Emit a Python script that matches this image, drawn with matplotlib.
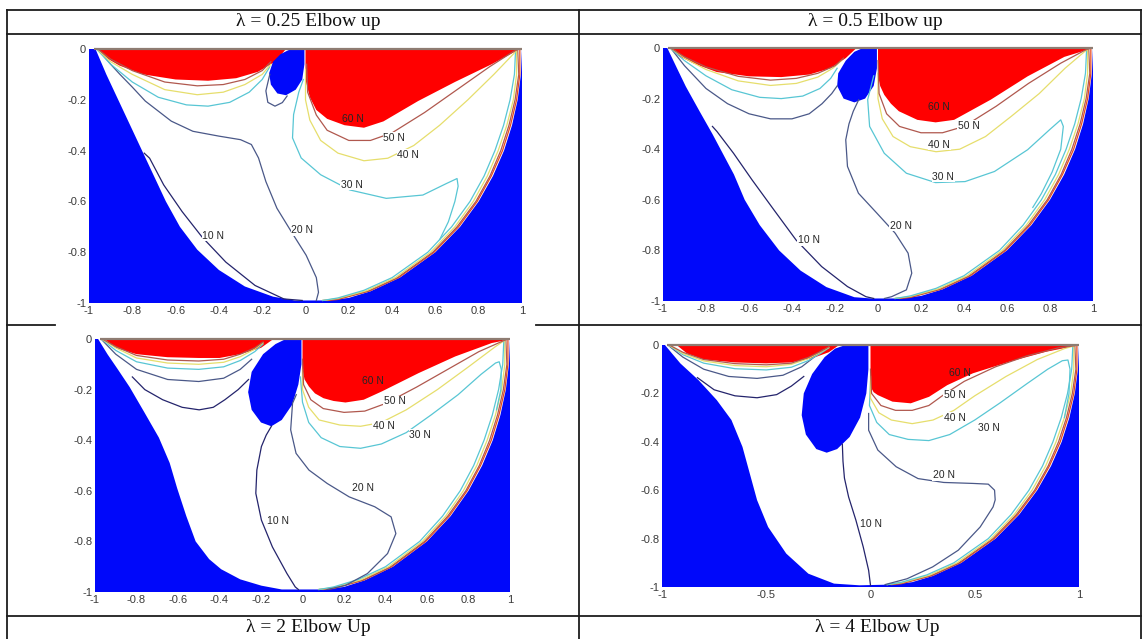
import matplotlib
matplotlib.use("Agg")
import matplotlib.pyplot as plt
from matplotlib.lines import Line2D

W, H = 1145, 639

BLUE = "#0008fa"
RED = "#ff0000"
C10 = "#24246c"
C20 = "#4a5888"
C30 = "#58c6d4"
C40 = "#e6de6c"
C50 = "#b0584e"
C60 = "#e8481e"
TOP_EDGE = "#8e7c72"

TITLES = ["λ = 0.25 Elbow up", "λ = 0.5 Elbow up", "λ = 2 Elbow Up", "λ = 4 Elbow Up"]
LEVEL_TEXT = ["60 N", "50 N", "40 N", "30 N", "20 N", "10 N"]

X_TICKS = [-1, -0.8, -0.6, -0.4, -0.2, 0, 0.2, 0.4, 0.6, 0.8, 1]
X_LABELS = ["-1", "-0.8", "-0.6", "-0.4", "-0.2", "0", "0.2", "0.4", "0.6", "0.8", "1"]
X_TICKS_4 = [-1, -0.5, 0, 0.5, 1]
X_LABELS_4 = ["-1", "-0.5", "0", "0.5", "1"]
Y_TICKS = [0, -0.2, -0.4, -0.6, -0.8, -1]
Y_LABELS = ["0", "-0.2", "-0.4", "-0.6", "-0.8", "-1"]

# outer rim of the workspace (right side) and the contours bunched along it
RIM = [(1.0, 0.0), (0.995, -0.1), (0.98, -0.2), (0.954, -0.3), (0.917, -0.4), (0.866, -0.5),
       (0.8, -0.6), (0.714, -0.7), (0.6, -0.8), (0.436, -0.9), (0.3, -0.954), (0.2, -0.98), (0.1, -0.99)]
HUG_30 = [(0.97, -0.01), (0.965, -0.1), (0.945, -0.2), (0.915, -0.3), (0.875, -0.4), (0.825, -0.5),
          (0.76, -0.6), (0.675, -0.7), (0.565, -0.8), (0.4, -0.9), (0.27, -0.95), (0.15, -0.98), (0.08, -0.99)]
HUG_40 = [(0.975, -0.005), (0.975, -0.1), (0.96, -0.2), (0.93, -0.3), (0.89, -0.4), (0.84, -0.5),
          (0.775, -0.6), (0.69, -0.7), (0.578, -0.8), (0.415, -0.9), (0.28, -0.952), (0.15, -0.982), (0.08, -0.99)]
HUG_50 = [(0.98, -0.003), (0.985, -0.1), (0.968, -0.2), (0.94, -0.3), (0.902, -0.4), (0.852, -0.5),
          (0.787, -0.6), (0.7, -0.7), (0.588, -0.8), (0.425, -0.9), (0.29, -0.953), (0.15, -0.984), (0.08, -0.99)]
HUG_60 = [(0.99, 0.0), (0.99, -0.1), (0.975, -0.2), (0.947, -0.3), (0.91, -0.4), (0.858, -0.5),
          (0.793, -0.6), (0.707, -0.7), (0.594, -0.8), (0.43, -0.9), (0.295, -0.953), (0.15, -0.986), (0.1, -0.99)]

# ---- panel 1: lambda = 0.25
P1_EDGE = [(-0.97, 0.0), (-0.92, -0.1), (-0.865, -0.2), (-0.81, -0.3), (-0.755, -0.4), (-0.7, -0.5),
           (-0.645, -0.6), (-0.58, -0.7), (-0.5, -0.79), (-0.4, -0.87), (-0.28, -0.935), (-0.15, -0.975), (-0.05, -0.99)]
P1_RED_L = [(-0.965, 0.0), (-0.93, -0.03), (-0.86, -0.065), (-0.75, -0.1), (-0.6, -0.12), (-0.45, -0.125),
            (-0.32, -0.115), (-0.22, -0.09), (-0.14, -0.05), (-0.09, 0.0)]
P1_RED_R = [(0.0, 0.0), (0.0, -0.12), (0.02, -0.19), (0.05, -0.24), (0.1, -0.275), (0.18, -0.3), (0.27, -0.31),
            (0.36, -0.285), (0.52, -0.205), (0.69, -0.13), (0.86, -0.06), (0.98, -0.005), (0.99, 0.0)]
P1_HOLE = [(-0.06, 0.0), (-0.005, 0.0), (-0.005, -0.06), (-0.015, -0.12), (-0.045, -0.16), (-0.09, -0.182),
           (-0.13, -0.175), (-0.16, -0.14), (-0.168, -0.095), (-0.15, -0.05), (-0.115, -0.02), (-0.08, -0.005)]
P1_10N = [(-0.745, -0.41), (-0.72, -0.43), (-0.655, -0.535), (-0.57, -0.64), (-0.478, -0.74), (-0.368, -0.839),
          (-0.233, -0.931), (-0.1, -0.984), (-0.015, -0.99)]
P1_20N = [(-0.95, -0.01), (-0.9, -0.06), (-0.857, -0.1), (-0.8, -0.15), (-0.74, -0.205), (-0.62, -0.284),
          (-0.52, -0.324), (-0.4, -0.343), (-0.3, -0.357), (-0.25, -0.376), (-0.217, -0.429), (-0.183, -0.522),
          (-0.132, -0.627), (-0.065, -0.72), (0.003, -0.812), (0.05, -0.9), (0.06, -0.958), (0.05, -0.99)]
P1_20N_LOOP = [(-0.165, -0.1), (-0.183, -0.165), (-0.174, -0.21), (-0.141, -0.225), (-0.107, -0.211), (-0.085, -0.185)]
P1_30N_L = [(-0.96, -0.005), (-0.9, -0.06), (-0.8, -0.13), (-0.68, -0.19), (-0.55, -0.22), (-0.45, -0.225),
            (-0.35, -0.21), (-0.26, -0.17), (-0.2, -0.12), (-0.165, -0.07)]
P1_40N_L = [(-0.96, -0.003), (-0.9, -0.05), (-0.8, -0.1), (-0.65, -0.16), (-0.5, -0.18), (-0.38, -0.17),
            (-0.28, -0.14), (-0.2, -0.1), (-0.16, -0.06)]
P1_50N_L = [(-0.96, 0.0), (-0.9, -0.04), (-0.8, -0.085), (-0.65, -0.13), (-0.5, -0.145), (-0.38, -0.14),
            (-0.28, -0.12), (-0.2, -0.085), (-0.16, -0.05)]
P1_30N_R = [(-0.01, -0.12), (-0.031, -0.17), (-0.055, -0.258), (-0.06, -0.35), (-0.02, -0.429), (0.07, -0.495),
            (0.205, -0.555), (0.373, -0.588), (0.542, -0.575), (0.65, -0.53), (0.7, -0.51), (0.705, -0.54),
            (0.69, -0.6), (0.66, -0.68), (0.62, -0.75)]
P1_40N_R = [(0.0, -0.08), (0.0, -0.2), (0.02, -0.28), (0.07, -0.36), (0.15, -0.41), (0.27, -0.44), (0.38, -0.43),
            (0.5, -0.38), (0.62, -0.3), (0.75, -0.2), (0.87, -0.1), (0.96, -0.02), (0.975, -0.005)]
P1_50N_R = [(0.005, -0.06), (0.01, -0.17), (0.05, -0.26), (0.1, -0.32), (0.2, -0.36), (0.3, -0.36), (0.4, -0.33),
            (0.55, -0.25), (0.7, -0.16), (0.85, -0.07), (0.96, -0.01), (0.98, -0.003)]
P1_LABEL_XY = [(0.22, -0.277), (0.41, -0.35), (0.474, -0.416), (0.213, -0.535), (-0.014, -0.713), (-0.427, -0.736)]

# ---- panel 2: lambda = 0.5
P2_EDGE = [(-0.98, 0.0), (-0.935, -0.08), (-0.894, -0.152), (-0.83, -0.25), (-0.77, -0.34), (-0.72, -0.42),
           (-0.67, -0.5), (-0.62, -0.6), (-0.55, -0.7), (-0.46, -0.8), (-0.36, -0.88), (-0.24, -0.945),
           (-0.11, -0.985), (-0.03, -0.99)]
P2_RED_L = [(-0.97, 0.0), (-0.93, -0.03), (-0.86, -0.06), (-0.75, -0.095), (-0.6, -0.112), (-0.45, -0.115),
            (-0.32, -0.105), (-0.22, -0.08), (-0.15, -0.04), (-0.1, 0.0)]
P2_RED_R = [(0.0, 0.0), (0.0, -0.11), (0.01, -0.15), (0.029, -0.185), (0.06, -0.22), (0.097, -0.25),
            (0.183, -0.284), (0.268, -0.294), (0.354, -0.284), (0.525, -0.204), (0.696, -0.112),
            (0.867, -0.035), (0.986, -0.004), (0.99, 0.0)]
P2_HOLE = [(-0.07, 0.0), (-0.005, 0.0), (-0.005, -0.08), (-0.02, -0.15), (-0.06, -0.2), (-0.11, -0.215),
           (-0.16, -0.2), (-0.19, -0.15), (-0.185, -0.1), (-0.15, -0.05), (-0.11, -0.015)]
P2_10N = [(-0.77, -0.31), (-0.749, -0.33), (-0.672, -0.416), (-0.586, -0.521), (-0.484, -0.64), (-0.381, -0.759),
          (-0.262, -0.864), (-0.142, -0.943), (-0.056, -0.983), (-0.02, -0.99)]
P2_20N_L = [(-0.96, -0.005), (-0.9, -0.07), (-0.8, -0.16), (-0.7, -0.22), (-0.6, -0.26), (-0.5, -0.28),
            (-0.4, -0.28), (-0.32, -0.26), (-0.26, -0.22), (-0.215, -0.18), (-0.19, -0.15)]
P2_20N_R = [(-0.09, -0.205), (-0.115, -0.25), (-0.135, -0.3), (-0.15, -0.363), (-0.142, -0.468), (-0.091, -0.574),
            (-0.005, -0.653), (0.08, -0.732), (0.14, -0.811), (0.157, -0.89), (0.132, -0.956), (0.063, -0.983),
            (0.03, -0.99)]
P2_30N_L = [(-0.96, -0.005), (-0.9, -0.05), (-0.8, -0.11), (-0.68, -0.165), (-0.55, -0.195), (-0.45, -0.2),
            (-0.35, -0.19), (-0.27, -0.16), (-0.22, -0.12), (-0.19, -0.08)]
P2_40N_L = [(-0.96, -0.003), (-0.9, -0.04), (-0.8, -0.085), (-0.65, -0.13), (-0.5, -0.148), (-0.38, -0.14),
            (-0.28, -0.115), (-0.21, -0.08), (-0.17, -0.05)]
P2_50N_L = [(-0.965, 0.0), (-0.9, -0.035), (-0.8, -0.075), (-0.65, -0.112), (-0.5, -0.127), (-0.38, -0.12),
            (-0.28, -0.1), (-0.2, -0.07), (-0.16, -0.04)]
P2_30N_R = [(-0.02, -0.11), (-0.048, -0.204), (-0.039, -0.31), (0.029, -0.416), (0.132, -0.495), (0.268, -0.532),
            (0.405, -0.528), (0.542, -0.488), (0.696, -0.402), (0.798, -0.323), (0.85, -0.284), (0.862, -0.31),
            (0.85, -0.4), (0.81, -0.49), (0.76, -0.575), (0.72, -0.63)]
P2_40N_R = [(0.0, -0.1), (0.0, -0.2), (0.02, -0.28), (0.07, -0.35), (0.15, -0.39), (0.27, -0.41), (0.38, -0.4),
            (0.5, -0.35), (0.62, -0.27), (0.75, -0.18), (0.87, -0.08), (0.96, -0.015), (0.975, -0.005)]
P2_50N_R = [(0.0, -0.05), (0.005, -0.18), (0.04, -0.26), (0.1, -0.31), (0.2, -0.335), (0.3, -0.335), (0.4, -0.31),
            (0.55, -0.23), (0.7, -0.14), (0.85, -0.06), (0.96, -0.01), (0.98, -0.003)]
P2_LABEL_XY = [(0.285, -0.234), (0.422, -0.307), (0.285, -0.383), (0.303, -0.508), (0.106, -0.703), (-0.321, -0.759)]

# ---- panel 3: lambda = 2
P3_EDGE = [(-0.985, 0.0), (-0.94, -0.06), (-0.89, -0.12), (-0.833, -0.19), (-0.762, -0.29), (-0.692, -0.39),
           (-0.64, -0.49), (-0.604, -0.59), (-0.56, -0.7), (-0.515, -0.8), (-0.45, -0.87), (-0.392, -0.91),
           (-0.3, -0.95), (-0.198, -0.975), (-0.1, -0.99), (-0.03, -0.99)]
P3_RED_L = [(-0.955, 0.0), (-0.9, -0.035), (-0.8, -0.06), (-0.65, -0.072), (-0.5, -0.075), (-0.4, -0.075),
            (-0.3, -0.06), (-0.2, -0.035), (-0.14, 0.0)]
P3_RED_R = [(0.0, 0.0), (0.0, -0.12), (0.01, -0.16), (0.031, -0.188), (0.06, -0.215), (0.101, -0.234),
            (0.15, -0.245), (0.207, -0.251), (0.295, -0.24), (0.383, -0.207), (0.559, -0.135), (0.736, -0.069),
            (0.912, -0.016), (0.991, -0.003), (0.995, 0.0)]
P3_HOLE = [(-0.08, 0.0), (-0.005, 0.0), (-0.005, -0.1), (-0.02, -0.18), (-0.05, -0.26), (-0.1, -0.32),
           (-0.15, -0.345), (-0.2, -0.33), (-0.245, -0.28), (-0.262, -0.21), (-0.245, -0.13), (-0.19, -0.06),
           (-0.13, -0.02)]
P3_10N_L = [(-0.82, -0.15), (-0.76, -0.2), (-0.674, -0.24), (-0.58, -0.27), (-0.498, -0.28), (-0.43, -0.27),
            (-0.374, -0.24), (-0.31, -0.2), (-0.26, -0.16)]
P3_10N_R = [(-0.15, -0.345), (-0.175, -0.38), (-0.198, -0.425), (-0.22, -0.518), (-0.225, -0.61), (-0.198, -0.716),
            (-0.145, -0.822), (-0.075, -0.927), (-0.035, -0.98), (-0.02, -0.99)]
P3_20N_L = [(-0.965, -0.005), (-0.9, -0.06), (-0.8, -0.12), (-0.65, -0.16), (-0.5, -0.168), (-0.38, -0.155),
            (-0.3, -0.12), (-0.245, -0.08)]
P3_20N_R = [(-0.03, -0.22), (-0.048, -0.254), (-0.057, -0.359), (-0.031, -0.452), (0.031, -0.518), (0.119, -0.571),
            (0.225, -0.624), (0.348, -0.663), (0.427, -0.703), (0.45, -0.769), (0.41, -0.848), (0.313, -0.927),
            (0.207, -0.974), (0.119, -0.99)]
P3_30N_L = [(-0.965, -0.003), (-0.9, -0.045), (-0.8, -0.09), (-0.65, -0.115), (-0.5, -0.12), (-0.38, -0.11),
            (-0.3, -0.085), (-0.23, -0.05), (-0.19, -0.02)]
P3_40N_L = [(-0.965, -0.002), (-0.9, -0.035), (-0.8, -0.075), (-0.65, -0.095), (-0.5, -0.1), (-0.38, -0.092),
            (-0.3, -0.07), (-0.23, -0.04), (-0.19, -0.015)]
P3_50N_L = [(-0.965, 0.0), (-0.9, -0.03), (-0.8, -0.065), (-0.65, -0.083), (-0.5, -0.087), (-0.38, -0.08),
            (-0.3, -0.06), (-0.23, -0.035), (-0.19, -0.012)]
P3_30N_R = [(-0.01, -0.15), (0.0, -0.25), (0.03, -0.33), (0.09, -0.39), (0.18, -0.425), (0.28, -0.432),
            (0.38, -0.415), (0.5, -0.37), (0.62, -0.3), (0.75, -0.22), (0.86, -0.14), (0.93, -0.095),
            (0.948, -0.09), (0.958, -0.12), (0.956, -0.2), (0.935, -0.28)]
P3_40N_R = [(0.0, -0.12), (0.0, -0.2), (0.03, -0.27), (0.08, -0.32), (0.18, -0.34), (0.28, -0.345), (0.38, -0.33),
            (0.5, -0.28), (0.65, -0.2), (0.8, -0.11), (0.93, -0.03), (0.975, -0.005)]
P3_50N_R = [(0.0, -0.08), (0.005, -0.18), (0.04, -0.24), (0.1, -0.275), (0.2, -0.29), (0.3, -0.285), (0.4, -0.255),
            (0.55, -0.19), (0.7, -0.12), (0.85, -0.05), (0.96, -0.01), (0.98, -0.003)]
P3_LABEL_XY = [(0.339, -0.165), (0.445, -0.247), (0.392, -0.343), (0.568, -0.379), (0.29, -0.59), (-0.119, -0.719)]

# ---- panel 4: lambda = 4
P4_EDGE = [(-0.986, 0.0), (-0.912, -0.076), (-0.825, -0.145), (-0.737, -0.228), (-0.667, -0.31), (-0.614, -0.421),
           (-0.579, -0.531), (-0.544, -0.641), (-0.491, -0.752), (-0.404, -0.862), (-0.298, -0.945),
           (-0.175, -0.986), (-0.053, -0.993)]
P4_RED_L = [(-0.93, 0.0), (-0.88, -0.035), (-0.8, -0.06), (-0.65, -0.072), (-0.5, -0.076), (-0.38, -0.072),
            (-0.28, -0.055), (-0.2, -0.03), (-0.15, 0.0)]
P4_RED_R = [(0.0, 0.0), (0.0, -0.172), (0.015, -0.195), (0.035, -0.207), (0.105, -0.234), (0.193, -0.241),
            (0.281, -0.214), (0.368, -0.166), (0.491, -0.117), (0.667, -0.069), (0.842, -0.028), (0.982, -0.004),
            (0.99, 0.0)]
P4_HOLE = [(-0.12, 0.0), (-0.01, 0.0), (-0.01, -0.1), (-0.02, -0.2), (-0.05, -0.3), (-0.1, -0.38), (-0.16, -0.43),
           (-0.21, -0.445), (-0.26, -0.43), (-0.31, -0.37), (-0.33, -0.29), (-0.32, -0.2), (-0.28, -0.12),
           (-0.22, -0.05), (-0.17, -0.015)]
P4_10N_L = [(-0.83, -0.135), (-0.75, -0.185), (-0.65, -0.21), (-0.544, -0.218), (-0.45, -0.205), (-0.38, -0.17),
            (-0.32, -0.13)]
P4_10N_R = [(-0.135, -0.41), (-0.132, -0.48), (-0.125, -0.55), (-0.105, -0.628), (-0.07, -0.724), (-0.035, -0.834),
            (-0.009, -0.931), (0.0, -0.993)]
P4_20N_L = [(-0.965, -0.005), (-0.9, -0.05), (-0.8, -0.1), (-0.68, -0.13), (-0.544, -0.138), (-0.42, -0.125),
            (-0.33, -0.09), (-0.27, -0.05), (-0.23, -0.02)]
P4_20N_R = [(-0.009, -0.283), (-0.009, -0.352), (0.035, -0.434), (0.123, -0.503), (0.228, -0.552), (0.351, -0.568),
            (0.491, -0.572), (0.565, -0.575), (0.595, -0.6), (0.598, -0.64), (0.588, -0.669), (0.526, -0.752),
            (0.421, -0.848), (0.298, -0.917), (0.175, -0.966), (0.07, -0.99)]
P4_30N_L = [(-0.965, -0.003), (-0.9, -0.04), (-0.8, -0.075), (-0.65, -0.098), (-0.5, -0.103), (-0.38, -0.092),
            (-0.3, -0.065), (-0.24, -0.035), (-0.2, -0.012)]
P4_40N_L = [(-0.965, -0.002), (-0.9, -0.035), (-0.8, -0.066), (-0.65, -0.085), (-0.5, -0.09), (-0.38, -0.08),
            (-0.3, -0.057), (-0.24, -0.03), (-0.2, -0.01)]
P4_50N_L = [(-0.965, 0.0), (-0.9, -0.03), (-0.8, -0.06), (-0.65, -0.077), (-0.5, -0.082), (-0.38, -0.075),
            (-0.3, -0.052), (-0.24, -0.027), (-0.2, -0.008)]
P4_30N_R = [(0.0, -0.15), (-0.005, -0.25), (0.03, -0.32), (0.09, -0.37), (0.18, -0.39), (0.28, -0.395),
            (0.38, -0.37), (0.5, -0.31), (0.62, -0.24), (0.75, -0.16), (0.85, -0.1), (0.92, -0.065),
            (0.947, -0.062), (0.957, -0.1), (0.952, -0.2), (0.93, -0.3)]
P4_40N_R = [(0.0, -0.13), (0.0, -0.22), (0.04, -0.28), (0.1, -0.31), (0.2, -0.325), (0.3, -0.31), (0.4, -0.27),
            (0.5, -0.21), (0.65, -0.13), (0.8, -0.06), (0.93, -0.015), (0.975, -0.004)]
P4_50N_R = [(0.0, -0.1), (0.005, -0.2), (0.05, -0.25), (0.12, -0.27), (0.2, -0.27), (0.28, -0.25), (0.36, -0.2),
            (0.45, -0.15), (0.6, -0.09), (0.75, -0.045), (0.9, -0.012), (0.98, -0.003)]
P4_LABEL_XY = [(0.43, -0.117), (0.404, -0.207), (0.404, -0.301), (0.57, -0.341), (0.351, -0.538), (0.0, -0.738)]

# axes boxes in pixels: left, right, top, bottom
P1_BOX = (89, 522, 49, 303)
P2_BOX = (663, 1093, 48, 301)
P3_BOX = (95, 510, 339, 592)
P4_BOX = (662, 1079, 345, 587)

plt.rcParams["axes.unicode_minus"] = False
fig = plt.figure(figsize=(W / 100, H / 100), dpi=100)
fig.patch.set_facecolor("white")


def fig_line(x0, y0, x1, y1):
    fig.add_artist(Line2D([x0 / W, x1 / W], [1 - y0 / H, 1 - y1 / H], color="#1c1c1c", lw=1.3))


def xy(points):
    return [p[0] for p in points], [p[1] for p in points]


def draw_panel(box, xticks, xlabels, edge, red_l, red_r, hole, curves, label_xy):
    left, right, top, bottom = box
    ax = fig.add_axes([left / W, 1 - bottom / H, (right - left) / W, (bottom - top) / H])
    ax.set_xlim(-1, 1)
    ax.set_ylim(-1, 0)
    ax.set_facecolor(BLUE)
    for s in ax.spines.values():
        s.set_visible(False)

    ax.fill(*xy(edge + RIM[::-1]), color="white", lw=0)
    ax.fill(*xy(red_l), color=RED, lw=0)
    ax.fill(*xy(red_r), color=RED, lw=0)
    ax.fill(*xy(hole), color=BLUE, lw=0)

    for pts, col in [(HUG_60, C60), (HUG_50, C50), (HUG_40, C40), (HUG_30, C30)]:
        ax.plot(*xy(pts), color=col, lw=0.9)
    for pts, col in curves:
        ax.plot(*xy(pts), color=col, lw=0.9)
    ax.plot([-0.975, 1.0], [0, 0], color=TOP_EDGE, lw=1.6, clip_on=False, solid_capstyle="butt")

    for i, (text, (lx, ly)) in enumerate(zip(LEVEL_TEXT, label_xy)):
        bb = None if i == 0 else dict(boxstyle="square,pad=0.05", fc="white", ec="none")
        ax.text(lx, ly, text, ha="center", va="center", fontsize=7.5, color="#262626",
                family="Liberation Sans", bbox=bb)

    ax.set_xticks(xticks)
    ax.set_xticklabels(xlabels)
    ax.set_yticks(Y_TICKS)
    ax.set_yticklabels(Y_LABELS)
    ax.tick_params(length=0, pad=2, labelsize=8, labelcolor="#3a3a3a")
    for t in ax.get_xticklabels() + ax.get_yticklabels():
        t.set_family("Liberation Sans")
    return ax


draw_panel(P1_BOX, X_TICKS, X_LABELS, P1_EDGE, P1_RED_L, P1_RED_R, P1_HOLE,
           [(P1_10N, C10), (P1_20N, C20), (P1_20N_LOOP, C20), (P1_30N_L, C30), (P1_40N_L, C40), (P1_50N_L, C50),
            (P1_30N_R, C30), (P1_40N_R, C40), (P1_50N_R, C50)], P1_LABEL_XY)
draw_panel(P2_BOX, X_TICKS, X_LABELS, P2_EDGE, P2_RED_L, P2_RED_R, P2_HOLE,
           [(P2_10N, C10), (P2_20N_L, C20), (P2_20N_R, C20), (P2_30N_L, C30), (P2_40N_L, C40), (P2_50N_L, C50),
            (P2_30N_R, C30), (P2_40N_R, C40), (P2_50N_R, C50)], P2_LABEL_XY)
draw_panel(P3_BOX, X_TICKS, X_LABELS, P3_EDGE, P3_RED_L, P3_RED_R, P3_HOLE,
           [(P3_10N_L, C10), (P3_10N_R, C10), (P3_20N_L, C20), (P3_20N_R, C20), (P3_30N_L, C30), (P3_40N_L, C40),
            (P3_50N_L, C50), (P3_30N_R, C30), (P3_40N_R, C40), (P3_50N_R, C50)], P3_LABEL_XY)
draw_panel(P4_BOX, X_TICKS_4, X_LABELS_4, P4_EDGE, P4_RED_L, P4_RED_R, P4_HOLE,
           [(P4_10N_L, C10), (P4_10N_R, C10), (P4_20N_L, C20), (P4_20N_R, C20), (P4_30N_L, C30), (P4_40N_L, C40),
            (P4_50N_L, C50), (P4_30N_R, C30), (P4_40N_R, C40), (P4_50N_R, C50)], P4_LABEL_XY)

# table frame
fig_line(7, 10, 1141, 10)
fig_line(7, 34, 1141, 34)
fig_line(7, 10, 7, 639)
fig_line(579, 10, 579, 639)
fig_line(1141, 10, 1141, 639)
fig_line(7, 325, 55, 325)
fig_line(536, 325, 1141, 325)
fig_line(7, 616, 1141, 616)

title_font = dict(family="Liberation Serif", fontsize=14, color="#111111", ha="center", va="center")
fig.text(308 / W, 1 - 22 / H, TITLES[0], **title_font)
fig.text(875 / W, 1 - 22 / H, TITLES[1], **title_font)
fig.text(308 / W, 1 - 628 / H, TITLES[2], **title_font)
fig.text(877 / W, 1 - 628 / H, TITLES[3], **title_font)

fig.savefig("out.png", dpi=100, facecolor="white")
